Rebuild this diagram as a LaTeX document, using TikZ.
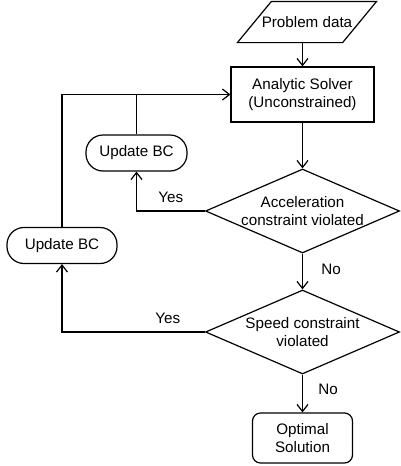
\documentclass[tikz,border=0pt]{standalone}
\usepackage{fontspec}
\setmainfont{Liberation Sans}
\usetikzlibrary{shapes.geometric,arrows.meta}
\begin{document}
\begin{tikzpicture}[x=1pt,y=-1pt,line width=1.2pt,
  font=\fontsize{15.2}{18}\selectfont,
  arr/.style={-{Straight Barb[length=7pt,width=11pt]}},
  proc/.style={draw,minimum width=143pt,minimum height=55pt,align=center,inner sep=0pt},
  decision/.style={draw,diamond,aspect=2.31,minimum width=194pt,minimum height=84pt,inner sep=-4pt,align=center},
  term/.style={draw,rounded corners=17pt,minimum height=36pt,inner sep=0pt},
  endbox/.style={draw,rounded corners=8pt,minimum width=100pt,minimum height=50pt,align=center,inner sep=0pt}]
\useasboundingbox (0,0) rectangle (400,466);

\node[minimum width=104pt,minimum height=40pt,inner sep=0pt] (pd) at (307,22) {Problem data};
\draw ([xshift=17pt]pd.north west) -- ([xshift=17pt]pd.north east)
  -- ([xshift=-17pt]pd.south east) -- ([xshift=-17pt]pd.south west) -- cycle;

\node[proc] (solver) at (302.5,94.5) {Analytic Solver\\(Unconstrained)};
\node[decision] (d1) at (302.5,211) {Acceleration\\constraint violated};
\node[decision] (d2) at (302.5,332) {Speed constraint\\violated};
\node[endbox] (opt) at (302.5,438) {Optimal\\Solution};
\node[term,minimum width=101pt] (u1) at (136.5,153) {Update BC};
\node[term,minimum width=110pt] (u2) at (62,245.5) {Update BC};

\draw[arr] (pd.south -| solver.north) -- (solver.north);
\draw[arr] (solver.south) -- (d1.north);
\draw[arr] (d1.west) -| node[pos=0.25,above=4pt] (yes1) {Yes} (u1.south);
\draw (u1.north) -- (u1.north |- solver.west);
\draw[arr] (u2.north) |- (solver.west);
\draw[arr] (d1.south) -- node[pos=0.45,right=15pt] (no1) {No} (d2.north);
\draw[arr] (d2.west) -| node[pos=0.13,above=4pt] (yes2) {Yes} (u2.south);
\draw[arr] (d2.south) -- node[pos=0.4,right=12pt] (no2) {No} (opt.north);
\end{tikzpicture}
\end{document}
